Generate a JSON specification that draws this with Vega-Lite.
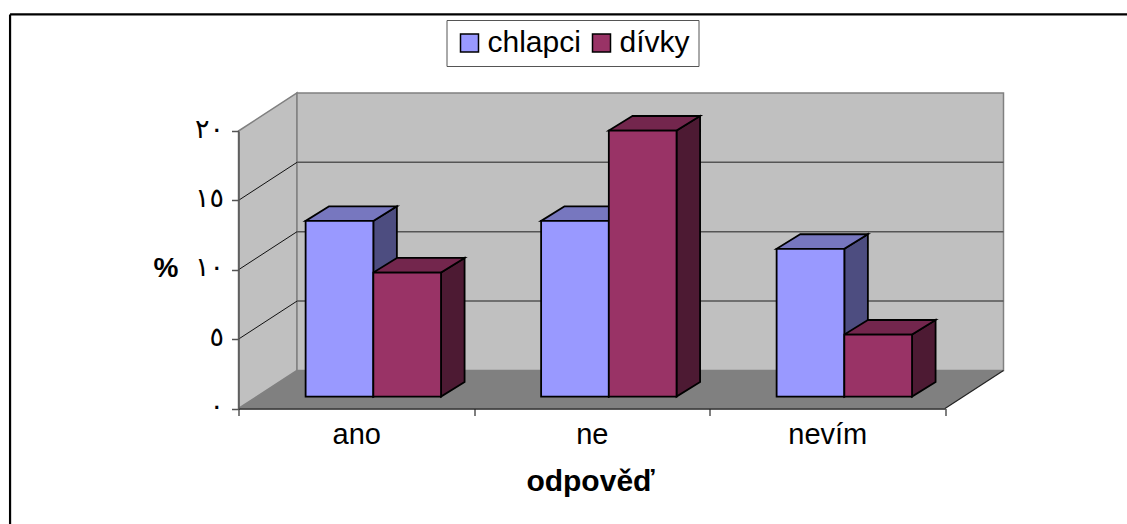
{
"$schema":"https://vega.github.io/schema/vega-lite/v6.json",
"width":706.5,"height":277.5,
"autosize":{"type":"none"},
"padding":{"left":238.5,"top":131,"right":182,"bottom":115.5},
"background":"white",
"config":{"view":{"stroke":null},"font":"Liberation Sans"},
"datasets":{
"sloupce":[
{"odpoved":"ano","pohlavi":"chlapci","hodnota":12.66},
{"odpoved":"ano","pohlavi":"dívky","hodnota":8.94},
{"odpoved":"ne","pohlavi":"chlapci","hodnota":12.66},
{"odpoved":"ne","pohlavi":"dívky","hodnota":19.17},
{"odpoved":"nevím","pohlavi":"chlapci","hodnota":10.65},
{"odpoved":"nevím","pohlavi":"dívky","hodnota":4.47}
],
"hloubka":[{"d":0},{"d":1}],
"mrizka":[{"v":5},{"v":10},{"v":15}],
"jeden":[{"n":1}]
},
"layer":[
{"data":{"name":"hloubka"},
"transform":[{"calculate":"datum.d*0.2484","as":"px"},{"calculate":"datum.d*2.74","as":"py0"},{"calculate":"20+datum.d*2.74","as":"py1"}],
"mark":{"type":"area","fill":"#C0C0C0","stroke":"#808080","strokeWidth":1.5},
"encoding":{
"x":{"field":"px","type":"quantitative","scale":{"domain":[0,3],"nice":false,"zero":false},
"axis":{"values":[0,0.5,1,1.5,2,2.5,3],"zindex":1,"grid":false,
"labelExpr":"datum.value==0.5?'ano':datum.value==1.5?'ne':datum.value==2.5?'nevím':''",
"labelFont":"Liberation Sans","labelFontSize":29,"labelColor":"black","labelPadding":5,"labelOverlap":false,"labelFlush":false,
"tickSize":7,"tickColor":"#555555","tickWidth":1.5,"tickOpacity":{"condition":{"test":"datum.value%1!=0","value":0},"value":1},
"domainColor":"#222222","domainWidth":1.5,
"title":"odpověď","titleFont":"Liberation Sans","titleFontSize":30,"titleFontWeight":"bold","titleColor":"black","titleX":351.5,"titleY":82,"titleAlign":"center","titleBaseline":"alphabetic"}},
"y":{"field":"py1","type":"quantitative","scale":{"domain":[0,20],"nice":false,"zero":false},
"axis":{"values":[0,5,10,15,20],"zindex":1,"grid":false,
"labelExpr":"datum.value==0?'٠':datum.value==5?'٥':datum.value==10?'١٠':datum.value==15?'١٥':'٢٠'",
"labelFont":"DejaVu Sans","labelFontSize":27,"labelColor":"black","labelPadding":8,"labelOffset":-2,
"tickSize":7,"tickColor":"#555555","tickWidth":1.5,
"domainColor":"#555555","domainWidth":1.5,
"title":"%","titleFont":"Liberation Sans","titleFontSize":28,"titleFontWeight":"bold","titleColor":"black","titleAngle":0,"titleX":-73,"titleY":137,"titleAlign":"center","titleBaseline":"middle"}},
"y2":{"field":"py0"}}},
{"data":{"name":"jeden"},
"mark":{"type":"rect","fill":"#C0C0C0","stroke":"#808080","strokeWidth":1.5},
"encoding":{"x":{"datum":0.2484,"type":"quantitative"},"x2":{"datum":3.2484},"y":{"datum":2.74,"type":"quantitative"},"y2":{"datum":22.74}}},
{"data":{"name":"hloubka"},
"transform":[{"calculate":"datum.d*2.74","as":"fy"},{"calculate":"datum.d*0.2484","as":"fx0"},{"calculate":"3+datum.d*0.2484","as":"fx1"}],
"mark":{"type":"area","orient":"horizontal","fill":"#808080","stroke":null},
"encoding":{"y":{"field":"fy","type":"quantitative"},"x":{"field":"fx0","type":"quantitative"},"x2":{"field":"fx1"}}},
{"data":{"name":"mrizka"},
"transform":[{"calculate":"datum.v+2.74","as":"vz"}],
"mark":{"type":"rule","color":"#111111","strokeWidth":1},
"encoding":{"x":{"datum":0,"type":"quantitative"},"x2":{"datum":0.2484},"y":{"field":"v","type":"quantitative"},"y2":{"field":"vz"}}},
{"data":{"name":"mrizka"},
"transform":[{"calculate":"datum.v+2.74","as":"vz"}],
"mark":{"type":"rule","color":"#555555","strokeWidth":1.5},
"encoding":{"x":{"datum":0.2484,"type":"quantitative"},"x2":{"datum":3.2484},"y":{"field":"vz","type":"quantitative"}}},
{"data":{"name":"jeden"},
"mark":{"type":"rule","color":"#222222","strokeWidth":1.2},
"encoding":{"x":{"datum":3,"type":"quantitative"},"x2":{"datum":3.2484},"y":{"datum":0,"type":"quantitative"},"y2":{"datum":2.74}}},
{"data":{"name":"sloupce"},
"transform":[
{"calculate":"indexof(['ano','ne','nevím'],datum.odpoved)","as":"i"},
{"calculate":"datum.pohlavi=='chlapci'?0:1","as":"s"},
{"calculate":"datum.i+0.285+datum.s*0.2875+0.2875","as":"x1"},
{"calculate":"datum.odpoved+datum.pohlavi","as":"klic"},
{"calculate":"[0,1]","as":"d"},{"flatten":["d"]},
{"calculate":"datum.x1+datum.d*0.1","as":"sx"},
{"calculate":"0.86+datum.d*1.05","as":"sy0"},
{"calculate":"datum.hodnota+0.86+datum.d*1.05","as":"sy1"}],
"mark":{"type":"area","stroke":"black","strokeWidth":1.8},
"encoding":{"x":{"field":"sx","type":"quantitative"},"y":{"field":"sy1","type":"quantitative"},"y2":{"field":"sy0"},"detail":{"field":"klic"},
"fill":{"condition":{"test":"datum.pohlavi=='chlapci'","value":"#4D4D80"},"value":"#4D1A33"}}},
{"data":{"name":"sloupce"},
"transform":[
{"calculate":"indexof(['ano','ne','nevím'],datum.odpoved)","as":"i"},
{"calculate":"datum.pohlavi=='chlapci'?0:1","as":"s"},
{"calculate":"datum.i+0.285+datum.s*0.2875","as":"x0"},
{"calculate":"datum.x0+0.2875","as":"x1"},
{"calculate":"datum.odpoved+datum.pohlavi","as":"klic"},
{"calculate":"[0,1]","as":"d"},{"flatten":["d"]},
{"calculate":"datum.x0+datum.d*0.1","as":"tx0"},
{"calculate":"datum.x1+datum.d*0.1","as":"tx1"},
{"calculate":"datum.hodnota+0.86+datum.d*1.05","as":"ty"}],
"mark":{"type":"area","orient":"horizontal","stroke":"black","strokeWidth":1.8},
"encoding":{"y":{"field":"ty","type":"quantitative"},"x":{"field":"tx0","type":"quantitative"},"x2":{"field":"tx1"},"detail":{"field":"klic"},
"fill":{"condition":{"test":"datum.pohlavi=='chlapci'","value":"#7777BF"},"value":"#73264D"}}},
{"data":{"name":"sloupce"},
"transform":[
{"calculate":"indexof(['ano','ne','nevím'],datum.odpoved)","as":"i"},
{"calculate":"datum.pohlavi=='chlapci'?0:1","as":"s"},
{"calculate":"datum.i+0.285+datum.s*0.2875","as":"x0"},
{"calculate":"datum.x0+0.2875","as":"x1"},
{"calculate":"datum.hodnota+0.86","as":"y1"},
{"calculate":"0.86","as":"y0"}],
"mark":{"type":"rect","stroke":"black","strokeWidth":1.8},
"encoding":{"x":{"field":"x0","type":"quantitative"},"x2":{"field":"x1"},"y":{"field":"y1","type":"quantitative"},"y2":{"field":"y0"},
"fill":{"field":"pohlavi","type":"nominal","scale":{"domain":["chlapci","dívky"],"range":["#9999FF","#993366"]},
"legend":{"orient":"none","legendX":208,"legendY":-111,"direction":"horizontal","title":null,"symbolType":"square","symbolSize":324,"symbolStrokeColor":"black","symbolStrokeWidth":1.5,"labelFont":"Liberation Sans","labelFontSize":30,"labelColor":"black","strokeColor":"#555555","fillColor":"white","padding":8,"columnPadding":5,"labelOffset":3}}}},
{"data":{"name":"jeden"},
"mark":{"type":"rule","color":"black","strokeWidth":2.2,"clip":false},
"encoding":{"x":{"datum":-0.97,"type":"quantitative"},"y":{"datum":28.4,"type":"quantitative"},"y2":{"datum":-8.32}}},
{"data":{"name":"jeden"},
"mark":{"type":"rule","color":"black","strokeWidth":2.2,"clip":false},
"encoding":{"x":{"datum":-0.97,"type":"quantitative"},"x2":{"datum":3.773},"y":{"datum":28.4,"type":"quantitative"}}}
]
}
